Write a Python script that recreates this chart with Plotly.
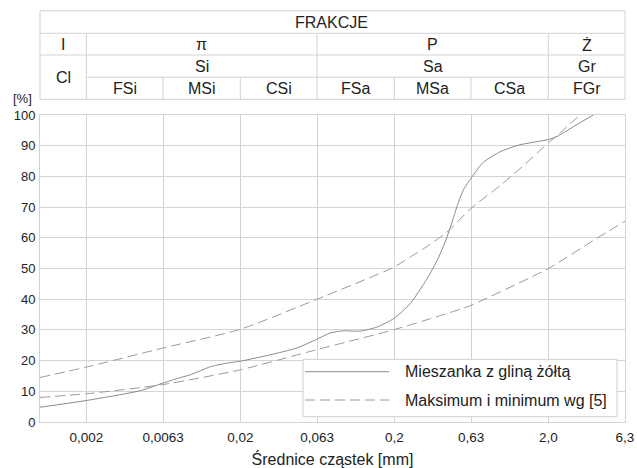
import math
import plotly.graph_objects as go

# ---------------- data ----------------
# Grain-size curve of the mixture (mm, % passing)
mix_d = [0.001, 0.002, 0.00448, 0.0063, 0.0081, 0.0095, 0.011, 0.0128, 0.016, 0.02,
         0.0313, 0.0466, 0.063, 0.0767, 0.093, 0.120, 0.154, 0.2, 0.253, 0.325,
         0.387, 0.438, 0.484, 0.521, 0.565, 0.63, 0.757, 0.972, 1.31, 2.0,
         2.32, 2.91, 3.92]
mix_p = [4.8, 7.0, 10.2, 12.7, 14.4, 15.4, 16.7, 18.0, 19.1, 19.8,
         21.9, 24.1, 27.0, 29.0, 29.7, 29.6, 30.9, 33.8, 38.5, 46.5,
         53.5, 60.0, 66.5, 71.5, 75.8, 79.4, 84.6, 88.0, 90.3, 92.0,
         93.2, 96.2, 100.0]

# Upper limit curve
max_d = [0.001, 0.002, 0.0063, 0.02, 0.063, 0.2, 0.253, 0.307, 0.438, 0.63,
         0.972, 1.31, 2.0, 2.32, 3.21]
max_p = [14.5, 17.9, 24.1, 30.2, 40.0, 50.5, 53.7, 56.3, 61.8, 69.6,
         77.0, 82.5, 90.9, 93.6, 100.0]

# Lower limit curve
min_d = [0.001, 0.002, 0.0063, 0.02, 0.063, 0.2, 0.535, 0.63, 2.0, 4.12, 6.3]
min_p = [8.0, 9.2, 12.2, 17.0, 23.6, 30.1, 36.7, 38.0, 50.0, 59.8, 65.4]

# Axis ticks
x_tickvals = [0.002, 0.0063, 0.02, 0.063, 0.2, 0.63, 2.0, 6.3]
x_ticktext = ["0,002", "0,0063", "0,02", "0,063", "0,2", "0,63", "2,0", "6,3"]
y_tickvals = [0, 10, 20, 30, 40, 50, 60, 70, 80, 90, 100]
x_min, x_max = 0.001, 6.3

# Fraction header table
bounds = [0.001, 0.002, 0.0063, 0.02, 0.063, 0.2, 0.63, 2.0, 6.3]
row2_labels = [("I", 0, 1), ("π", 1, 4), ("P", 4, 7), ("Ż", 7, 8)]
row3_labels = [("Si", 1, 4), ("Sa", 4, 7), ("Gr", 7, 8)]
row4_labels = [("FSi", 1, 2), ("MSi", 2, 3), ("CSi", 3, 4), ("FSa", 4, 5),
               ("MSa", 5, 6), ("CSa", 6, 7), ("FGr", 7, 8)]

legend_labels = ["Mieszanka z gliną żółtą", "Maksimum i minimum wg [5]"]

# ---------------- layout constants ----------------
W, H = 637, 468
PLOT_L, PLOT_R, PLOT_T, PLOT_B = 40, 625, 115, 422   # in page pixels
ML, MR, MT, MB = PLOT_L, W - PLOT_R, PLOT_T, H - PLOT_B
PW, PH = PLOT_R - PLOT_L, PLOT_B - PLOT_T
FONT = "Liberation Sans, Arial, sans-serif"
TXT = "#222222"
GRID = "#d3d3d3"
LINE_SOLID = "#8a8a8a"
LINE_DASH = "#9a9a9a"


def xp(v):
    return (math.log10(v) - math.log10(x_min)) / (math.log10(x_max) - math.log10(x_min))


def yp_px(py):
    # page pixel y -> paper y
    return (PLOT_B - py) / PH


def xp_px(px):
    return (px - PLOT_L) / PW


fig = go.Figure()
fig.add_trace(go.Scatter(x=mix_d, y=mix_p, mode="lines", name=legend_labels[0],
                         line=dict(color=LINE_SOLID, width=1, shape="spline", smoothing=0.6),
                         showlegend=False, hoverinfo="skip"))
fig.add_trace(go.Scatter(x=max_d, y=max_p, mode="lines", name=legend_labels[1],
                         line=dict(color=LINE_DASH, width=1, dash="10px,5px", shape="spline", smoothing=0.6),
                         showlegend=False, hoverinfo="skip"))
fig.add_trace(go.Scatter(x=min_d, y=min_p, mode="lines", name=legend_labels[1],
                         line=dict(color=LINE_DASH, width=1, dash="10px,5px", shape="spline", smoothing=0.6),
                         showlegend=False, hoverinfo="skip"))

shapes = []
annotations = []

# header rows (page pixel y of horizontal lines)
r_top, r1, r2, r3, r4 = 10.7, 33.3, 55.0, 77.3, 99.3
hl = dict(color=GRID, width=1)


def hline(py, x0=0.0, x1=1.0):
    shapes.append(dict(type="line", xref="paper", yref="paper", x0=x0, x1=x1,
                       y0=yp_px(py), y1=yp_px(py), line=hl, layer="above"))


def vline(px_paper, py0, py1):
    shapes.append(dict(type="line", xref="paper", yref="paper", x0=px_paper, x1=px_paper,
                       y0=yp_px(py0), y1=yp_px(py1), line=hl, layer="above"))


hline(r_top)
hline(r1)
hline(r2)
hline(r3, x0=xp(bounds[1]))
hline(r4)
vline(0.0, r_top, r4)
vline(1.0, r_top, r4)
for i in (1, 4, 7):
    vline(xp(bounds[i]), r1, r4)
for i in (2, 3, 5, 6):
    vline(xp(bounds[i]), r3, r4)

HF = 16


def label(text, i0, i1, py, size=HF):
    annotations.append(dict(text=text, xref="paper", yref="paper",
                            x=(xp(bounds[i0]) + xp(bounds[i1])) / 2, y=yp_px(py),
                            showarrow=False, xanchor="center", yanchor="middle",
                            font=dict(family=FONT, size=size, color=TXT)))


annotations.append(dict(text="FRAKCJE", xref="paper", yref="paper", x=xp_px(331), y=yp_px(22.5),
                        showarrow=False, xanchor="center", yanchor="middle",
                        font=dict(family=FONT, size=HF, color=TXT)))
for t, a, b in row2_labels:
    label(t, a, b, 45)
for t, a, b in row3_labels:
    label(t, a, b, 66.5)
label("Cl", 0, 1, 77.5)
for t, a, b in row4_labels:
    label(t, a, b, 88.5)

annotations.append(dict(text="[%]", xref="paper", yref="paper", x=xp_px(34), y=yp_px(98),
                        showarrow=False, xanchor="right", yanchor="middle",
                        font=dict(family=FONT, size=13, color=TXT)))

# manual legend box
lg_x0, lg_x1, lg_y0, lg_y1 = 303, 617, 359.3, 416.7
shapes.append(dict(type="rect", xref="paper", yref="paper",
                   x0=xp_px(lg_x0), x1=xp_px(lg_x1), y0=yp_px(lg_y0), y1=yp_px(lg_y1),
                   fillcolor="white", line=dict(color="#cfcfcf", width=1), layer="above"))
shapes.append(dict(type="line", xref="paper", yref="paper", x0=xp_px(305), x1=xp_px(389),
                   y0=yp_px(371.7), y1=yp_px(371.7), line=dict(color=LINE_SOLID, width=1), layer="above"))
shapes.append(dict(type="line", xref="paper", yref="paper", x0=xp_px(305), x1=xp_px(389),
                   y0=yp_px(400), y1=yp_px(400), line=dict(color=LINE_DASH, width=1, dash="10px,5px"),
                   layer="above"))
annotations.append(dict(text=legend_labels[0], xref="paper", yref="paper", x=xp_px(403), y=yp_px(371.7),
                        showarrow=False, xanchor="left", yanchor="middle",
                        font=dict(family=FONT, size=16, color=TXT)))
annotations.append(dict(text=legend_labels[1], xref="paper", yref="paper", x=xp_px(403), y=yp_px(400),
                        showarrow=False, xanchor="left", yanchor="middle",
                        font=dict(family=FONT, size=16, color=TXT)))

fig.update_layout(
    width=W, height=H, autosize=False,
    margin=dict(l=ML, r=MR, t=MT, b=MB, pad=0, autoexpand=False),
    paper_bgcolor="white", plot_bgcolor="white",
    font=dict(family=FONT, color=TXT),
    showlegend=False,
    hovermode=False,
    shapes=shapes, annotations=annotations,
    xaxis=dict(type="log", range=[math.log10(x_min), math.log10(x_max)],
               tickvals=x_tickvals, ticktext=x_ticktext, automargin=False,
               ticklabeloverflow="allow",
               tickfont=dict(family=FONT, size=13.5, color=TXT),
               showgrid=True, gridcolor=GRID, gridwidth=1,
               showline=True, linecolor=GRID, linewidth=1, mirror=True,
               ticks="outside", ticklen=3, tickcolor="rgba(0,0,0,0)", zeroline=False,
               title=dict(text="Średnice cząstek [mm]", font=dict(family=FONT, size=16, color=TXT),
                          standoff=10)),
    yaxis=dict(range=[0, 100], tickvals=y_tickvals, automargin=False,
               tickfont=dict(family=FONT, size=13, color=TXT),
               showgrid=True, gridcolor=GRID, gridwidth=1,
               showline=True, linecolor=GRID, linewidth=1, mirror=True,
               ticks="outside", ticklen=1, tickcolor="rgba(0,0,0,0)", zeroline=False),
)

# remove the browser's default body margin so the figure fills the window exactly
fig.write_html("out.html",
               config={"displayModeBar": False, "staticPlot": True},
               post_script="document.body.style.margin='0';"
                           "document.body.style.overflow='hidden';"
                           "document.documentElement.style.overflow='hidden';")
